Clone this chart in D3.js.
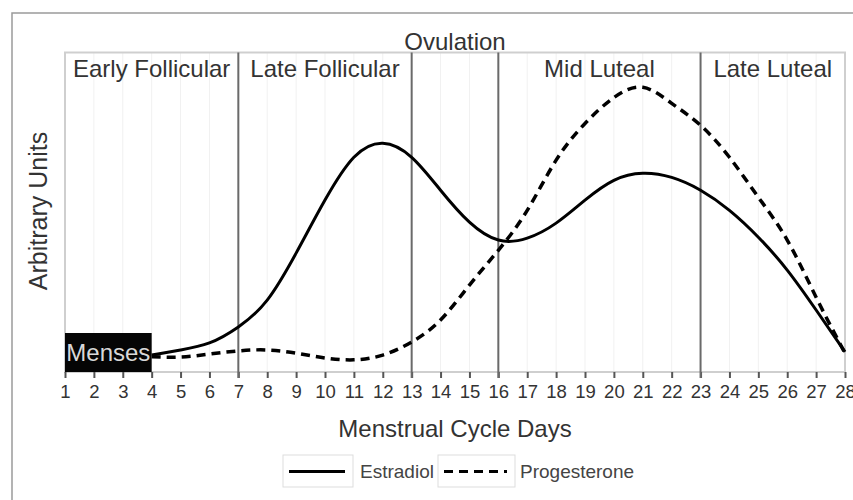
<!DOCTYPE html>
<html>
<head>
<meta charset="utf-8">
<script src="https://cdn.jsdelivr.net/npm/d3@7"></script>
<style>
    body { margin: 0; background: #fff; }
    svg text { font-family: "Liberation Sans", Arial, sans-serif; fill: #333; }
</style>
</head>
<body>
<svg id="cycle_chart" width="853" height="500"></svg>
<script>
"use strict";

const width = 853
const height = 500

// data (arbitrary units, 0-100)
const days = d3.range(1, 29)
const curveDays = d3.range(4, 29)
const estradiol = [5.3, 6.9, 9.1, 14.1, 22.5, 37.2, 53.8, 67.2, 71.6, 67.2, 56.9, 46.9, 41.3,
    41.9, 46.6, 53.8, 60.0, 62.2, 60.9, 56.9, 50.6, 42.2, 31.9, 19.4, 6.3]
const progesterone = [4.8, 4.7, 5.6, 6.6, 6.9, 5.9, 4.4, 3.8, 5.3, 9.4, 16.3, 27.2, 38.1,
    50.6, 66.3, 77.8, 85.9, 89.1, 84.1, 77.2, 67.2, 54.7, 41.3, 23.4, 5.9]
const phaseBounds = [7, 13, 16, 23]
const phaseNames = ["Early Follicular", "Late Follicular", "Mid Luteal", "Late Luteal"]
const phaseSpans = [[1, 7], [7, 13], [16, 23], [23, 28]]
const ovulation = { name: "Ovulation", span: [13, 16] }
const menses = { name: "Menses", span: [1, 4] }
const seriesNames = ["Estradiol", "Progesterone"]

const margin = { top: 52.5, right: 8, bottom: 128, left: 65 }

const svg = d3.select("#cycle_chart")

const x = d3.scaleLinear().domain([1, 28]).range([margin.left, width - margin.right])
const y = d3.scaleLinear().domain([0, 100]).range([height - margin.bottom, margin.top])

// outer frame
svg.append("rect")
    .attr("x", 12).attr("y", 13)
    .attr("width", 900).attr("height", 600)
    .attr("fill", "none").attr("stroke", "#9a9a9a").attr("stroke-width", 1.5)

// faint day grid
svg.append("g")
    .selectAll("line")
    .data(days)
    .join("line")
    .attr("x1", d => x(d)).attr("x2", d => x(d))
    .attr("y1", y(100)).attr("y2", y(0))
    .attr("stroke", "#f1f1f1").attr("stroke-width", 1)

// plot border
svg.append("rect")
    .attr("x", x(1)).attr("y", y(100))
    .attr("width", x(28) - x(1)).attr("height", y(0) - y(100))
    .attr("fill", "none").attr("stroke", "#cfcfcf").attr("stroke-width", 2)

// x axis ticks and labels
const xAxis = d3.axisBottom(x).tickValues(days).tickFormat(d3.format("d")).tickSize(6).tickPadding(7)
const axisG = svg.append("g")
    .attr("transform", `translate(0,${y(0)})`)
    .call(xAxis)
axisG.select(".domain").remove()
axisG.selectAll(".tick line").attr("stroke", "#555").attr("stroke-width", 2)
axisG.selectAll(".tick text")
    .attr("font-size", 18.5)
    .style("font-family", "'Liberation Sans', Arial, sans-serif")
    .attr("fill", "#444")

// phase separator lines
svg.append("g")
    .selectAll("line")
    .data(phaseBounds)
    .join("line")
    .attr("x1", d => x(d)).attr("x2", d => x(d))
    .attr("y1", y(100)).attr("y2", y(0) + 6)
    .attr("stroke", "#6a6a6a").attr("stroke-width", 2)

// phase labels
svg.append("g")
    .selectAll("text")
    .data(phaseNames)
    .join("text")
    .attr("x", (d, i) => (x(phaseSpans[i][0]) + x(phaseSpans[i][1])) / 2)
    .attr("y", 77)
    .attr("text-anchor", "middle")
    .attr("font-size", 24)
    .text(d => d)

svg.append("text")
    .attr("x", (x(ovulation.span[0]) + x(ovulation.span[1])) / 2)
    .attr("y", 50)
    .attr("text-anchor", "middle")
    .attr("font-size", 24)
    .text(ovulation.name)

// menses block
svg.append("rect")
    .attr("x", x(menses.span[0])).attr("y", 333)
    .attr("width", x(menses.span[1]) - x(menses.span[0])).attr("height", y(0) - 333)
    .attr("fill", "#050505")
svg.append("text")
    .attr("x", (x(menses.span[0]) + x(menses.span[1])) / 2)
    .attr("y", 361)
    .attr("text-anchor", "middle")
    .attr("font-size", 24)
    .style("fill", "#d8d8d8")
    .text(menses.name)

// hormone curves
const line = d3.line()
    .x(d => x(d[0]))
    .y(d => y(d[1]))
    .curve(d3.curveNatural)

svg.append("path")
    .datum(d3.zip(curveDays, progesterone))
    .attr("d", line)
    .attr("fill", "none").attr("stroke", "#000")
    .attr("stroke-width", 3.5)
    .attr("stroke-dasharray", "9,6")

svg.append("path")
    .datum(d3.zip(curveDays, estradiol))
    .attr("d", line)
    .attr("fill", "none").attr("stroke", "#000")
    .attr("stroke-width", 3)

// axis titles
svg.append("text")
    .attr("x", (x(1) + x(28)) / 2)
    .attr("y", 437)
    .attr("text-anchor", "middle")
    .attr("font-size", 24)
    .text("Menstrual Cycle Days")

svg.append("text")
    .attr("transform", "translate(47,211) rotate(-90)")
    .attr("text-anchor", "middle")
    .attr("font-size", 25)
    .text("Arbitrary Units")

// legend
const legend = svg.append("g")
const legendItems = [
    { name: seriesNames[0], box: 283, boxW: 70, dash: null, textX: 360 },
    { name: seriesNames[1], box: 438, boxW: 77, dash: "9,6", textX: 520 }
]
legendItems.forEach(item => {
    legend.append("rect")
        .attr("x", item.box).attr("y", 455)
        .attr("width", item.boxW).attr("height", 32)
        .attr("fill", "#fff").attr("stroke", "#ddd").attr("stroke-width", 1)
    legend.append("line")
        .attr("x1", item.box + 6).attr("x2", item.box + item.boxW - 8)
        .attr("y1", 471.5).attr("y2", 471.5)
        .attr("stroke", "#000").attr("stroke-width", 3)
        .attr("stroke-dasharray", item.dash)
    legend.append("text")
        .attr("x", item.textX).attr("y", 478)
        .attr("font-size", 19)
        .style("fill", "#444")
        .text(item.name)
})
</script>
</body>
</html>
